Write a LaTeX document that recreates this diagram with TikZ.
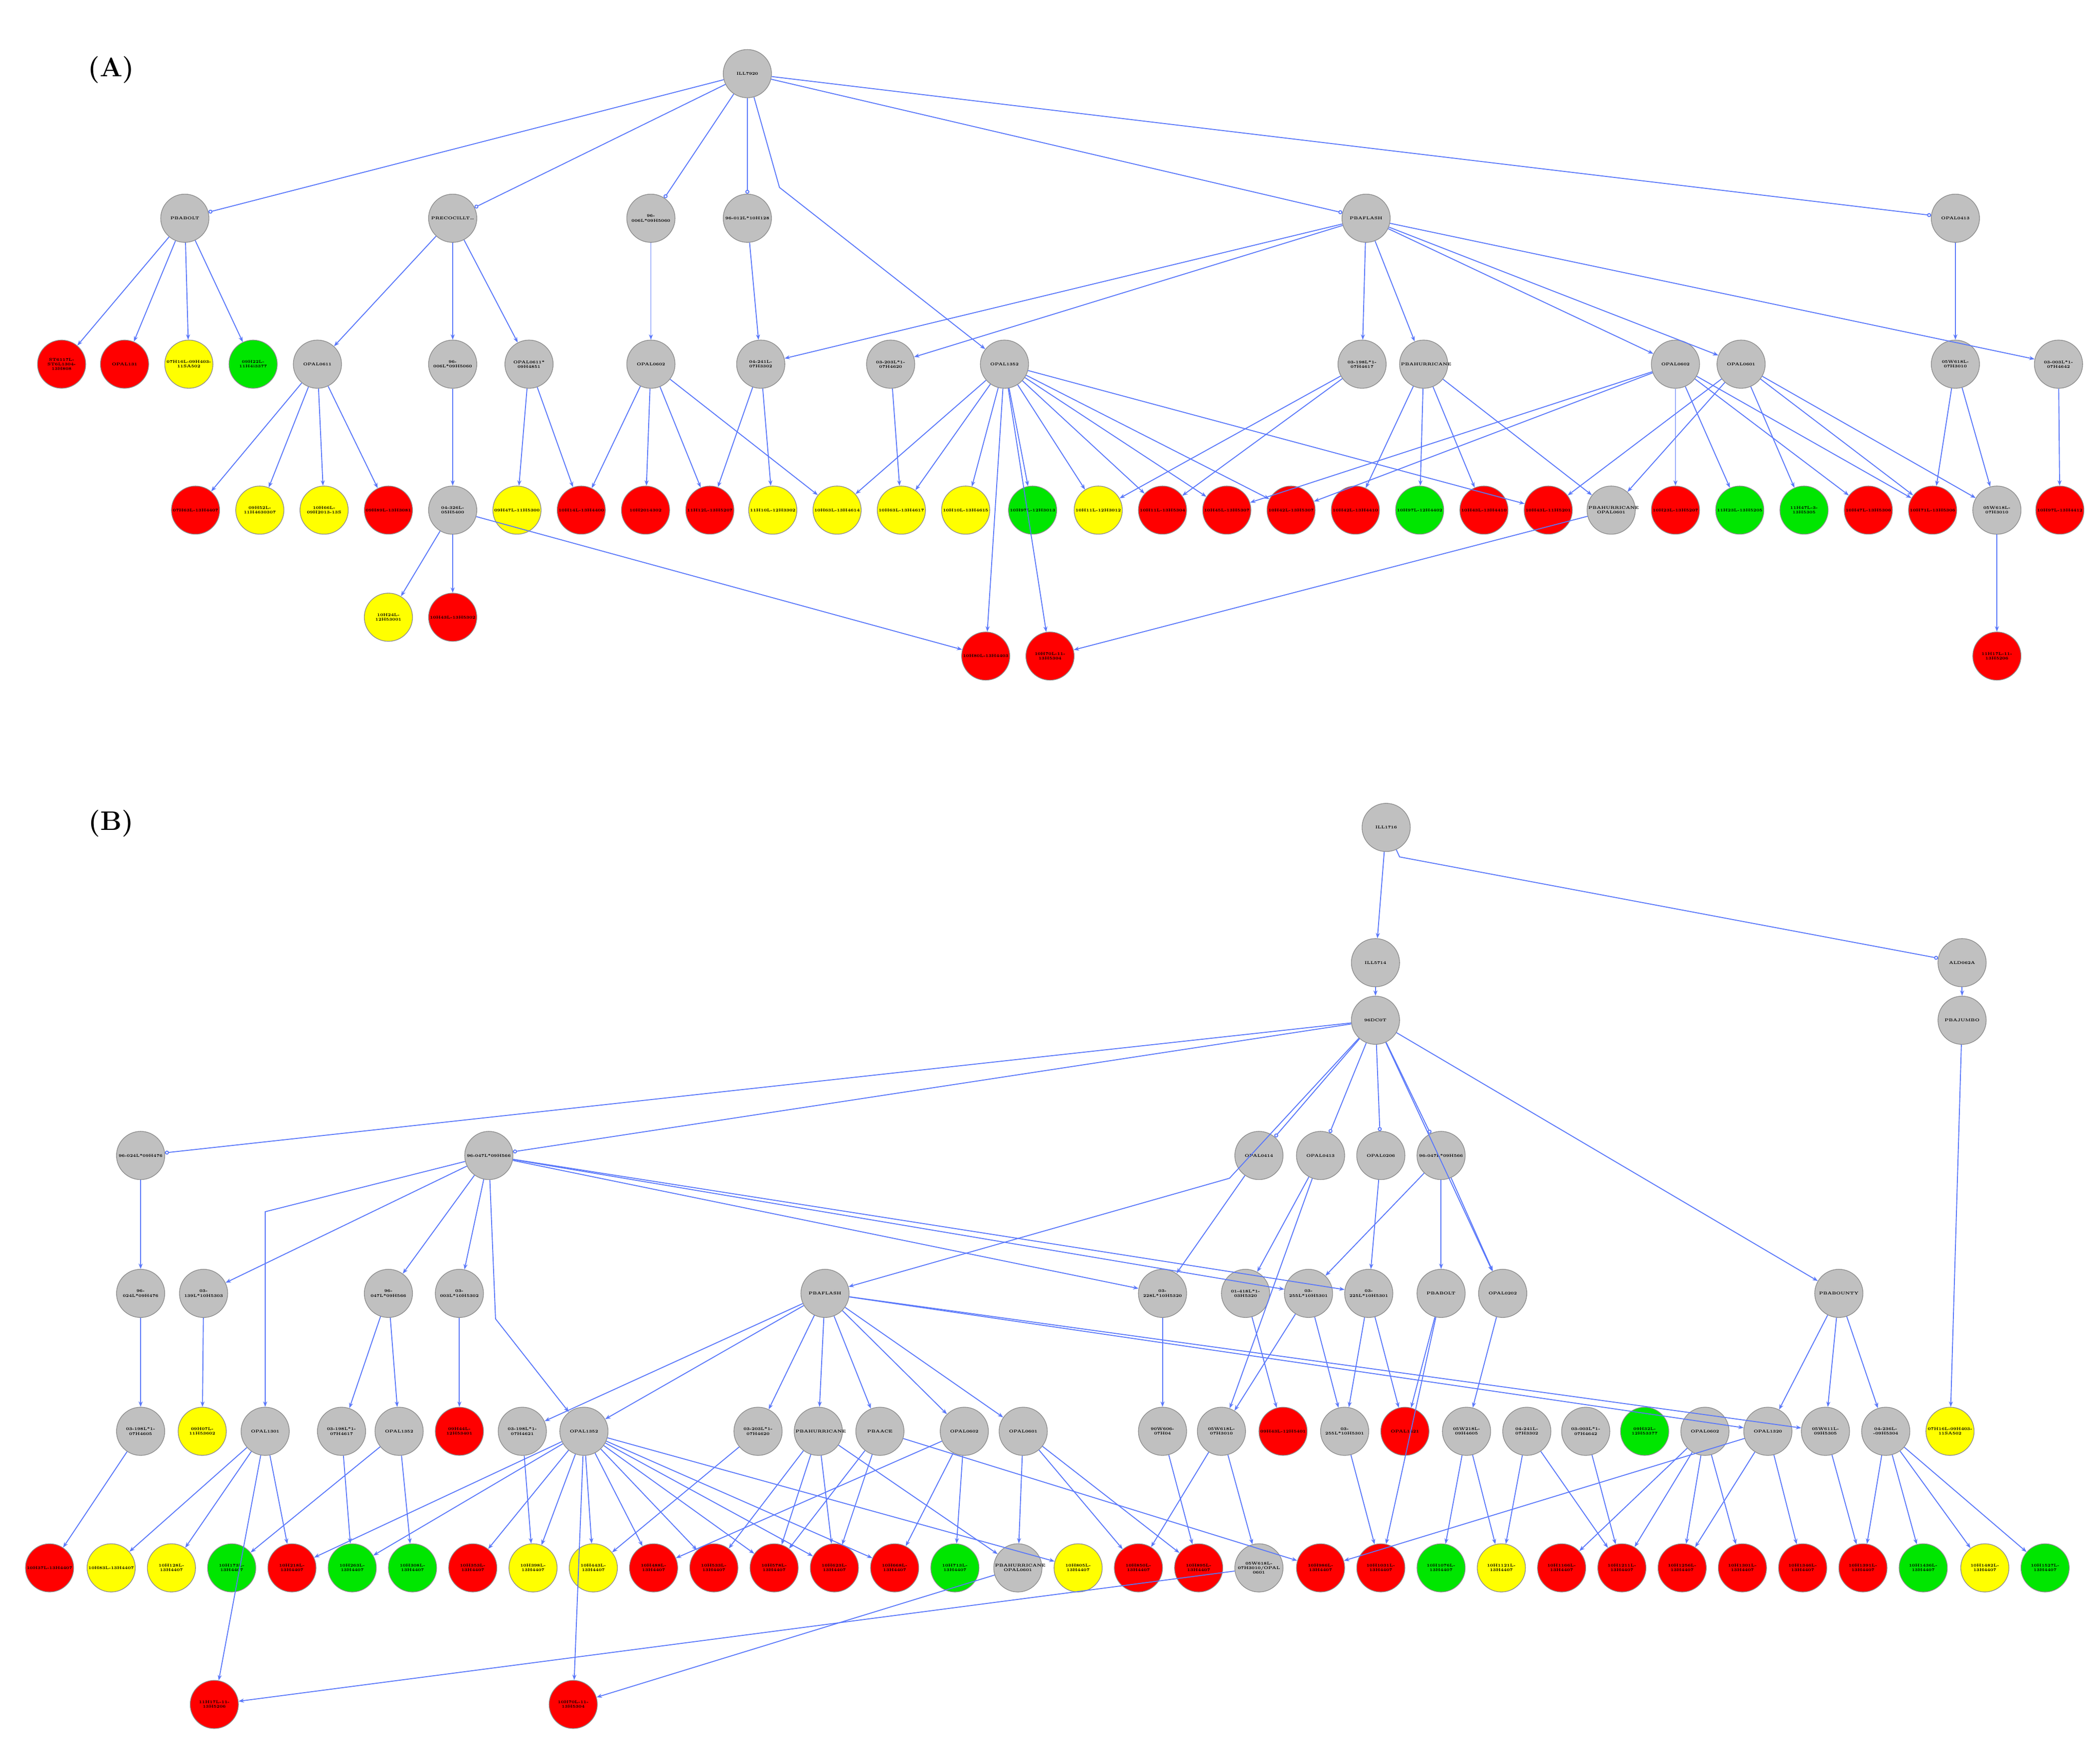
\documentclass[tikz,border=0pt]{standalone}
\usetikzlibrary{arrows.meta}
\definecolor{ln}{RGB}{90,120,250}
\definecolor{nodeg}{RGB}{192,192,192}
\definecolor{nodey}{RGB}{255,255,0}
\definecolor{nodegr}{RGB}{0,230,0}
\tikzset{
 nd/.style={circle,draw=black!45,line width=0.5pt,minimum size=36pt,inner sep=0pt,font=\fontsize{3}{3.4}\selectfont\bfseries,align=center,text width=34pt},
 cN/.style={nd,fill=nodeg},
 cR/.style={nd,fill=red},
 cY/.style={nd,fill=nodey},
 cG/.style={nd,fill=nodegr},
 e/.style={draw=ln,line width=0.7pt,-{Stealth[length=4pt,width=3pt]}},
 eo/.style={draw=ln,line width=0.7pt,-{Circle[open,length=3pt,width=3pt]}},
 lab/.style={font=\fontsize{20}{22}\selectfont\bfseries}
}
\begin{document}
\begin{tikzpicture}[x=1pt,y=-1pt]
\useasboundingbox (0,0) rectangle (1568,1306);
\node[lab] (LA) at (83,52) {(A)};
\node[lab] (LB) at (83,615) {(B)};
% ---------------- PART A
\node[cN] (A0) at (558,55) {ILL7920};
\foreach \x/\t in {138/PBABOLT,338/PRECOCILLT\ldots,486/96-006L*09H5060,558/96-012L*10H128,1020/PBAFLASH,1460/OPAL0413}
  \node[cN] (A1-\x) at (\x,163) {\t};
\foreach \x/\c/\t in {46/cR/ST6117L-ST6L1304-13H808,93/cR/OPAL131,141/cY/07H16L-09H403-11SA502,189/cG/09H22L-11H4i3377,
 237/cN/OPAL0611,338/cN/96-006L*09H5060,395/cN/OPAL0611*\\09H4851,486/cN/OPAL0602,568/cN/04-241L-\\07H3302,665/cN/03-203L*1-\\07H4620,750/cN/OPAL1352,
 1017/cN/03-198L*1-\\07H4617,1063/cN/PBAHURRICANE,1251/cN/OPAL0602,1300/cN/OPAL0601,1460/cN/05W618L-\\07H3010,1537/cN/03-003L*1-\\07H4642}
  \node[\c] (A2-\x) at (\x,272) {\t};
\foreach \x/\c/\t in {146/cR/07H63L-13H4407,194/cY/09H52L-11H4630307,242/cY/10H66L-09H2013-13S,290/cR/09H89L-13H3081,338/cN/04-326L-\\05H5400,
 386/cY/09H47L-11H5300,434/cR/10H14L-13H4400,482/cR/10H2014302,530/cR/11H12L-13H5207,577/cY/11H10L-12H3302,625/cY/10H63L-13H4614,673/cY/10H63L-13H4617,
 721/cY/10H10L-13H4615,771/cG/10H97L-12H3013,820/cY/10H11L-12H3012,868/cR/10H11L-13H5304,916/cR/10H45L-13H5307,964/cR/10H42L-13H5307,1012/cR/10H42L-13H4410,
 1060/cG/10H97L-12H4402,1108/cR/10H43L-13H4410,1156/cR/10H43L-11H5201,1203/cN/PBAHURRICANE\\OPAL0601,1251/cR/10H23L-13H5207,1299/cG/11H23L-13H5205,
 1347/cG/11H47L-3-13H5305,1395/cR/10H47L-13H5306,1443/cR/10H71L-13H5306,1491/cN/05W618L-\\07H3010/OPAL\\0601,1538/cR/10H97L-13H4412}
  \node[\c] (A3-\x) at (\x,381) {\t};
\node[cY] (A4-290) at (290,461) {10H24L-12H53001};
\node[cR] (A4-338) at (338,461) {10H43L-13H5302};
\node[cR] (A4-736) at (736,490) {10H80L-13H4403};
\node[cR] (A4-784) at (784,490) {10H70L-11-13H5304};
\node[cR] (A4-1491) at (1491,490) {11H17L-11-13H5206};
\coordinate (A0b) at (582,140);
\foreach \x in {138,338,486,558,1020,1460} \draw[eo] (A0) -- (A1-\x);
\draw[e] (A0) -- (A0b) -- (A2-750);
\foreach \a/\b in {138/46,138/93,138/141,138/189,338/237,338/338,338/395,486/486,558/568,
 1020/568,1020/665,1020/1017,1020/1063,1020/1251,1020/1300,1020/1537,1460/1460}
  \draw[e] (A1-\a) -- (A2-\b);
\foreach \a/\b in {237/146,237/194,237/242,237/290,338/338,395/386,395/434,486/434,486/482,486/530,486/625,
 568/530,568/577,665/673,750/625,750/673,750/721,750/771,750/820,750/868,750/916,750/964,750/1156,
 1017/820,1017/868,1063/1012,1063/1060,1063/1108,1063/1203,1251/916,1251/964,1251/1251,1251/1299,1251/1395,1251/1443,
 1300/1203,1300/1156,1300/1347,1300/1443,1300/1491,1460/1443,1460/1491,1537/1538}
  \draw[e] (A2-\a) -- (A3-\b);
\draw[e] (A3-338) -- (A4-290);
\draw[e] (A3-338) -- (A4-338);
\draw[e] (A3-338) -- (A4-736);
\draw[e] (A2-750) -- (A4-736);
\draw[e] (A2-750) -- (A4-784);
\draw[e] (A3-1203) -- (A4-784);
\draw[e] (A3-1491) -- (A4-1491);
% ---------------- PART B
\node[cN] (B0) at (1035,618) {ILL1716};
\node[cN] (B1a) at (1027,719) {ILL5714};
\node[cN] (B1b) at (1465,719) {ALD062A};
\node[cN] (B2a) at (1027,762) {96DC0T};
\node[cN] (B2b) at (1465,762) {PBAJUMBO};
\foreach \x/\t in {105/96-024L*09H476,365/96-047L*09H566,940/OPAL0414,986/OPAL0413,1031/OPAL0206,1076/96-047L*09H566}
  \node[cN] (B3-\x) at (\x,863) {\t};
\foreach \x/\t in {105/96-\\024L*09H476/OP\\AL0205,152/03-139L*10H5303,290/96-\\047L*09H566/OP\\AL0204,343/03-003L*10H5302,616/PBAFLASH,
 868/03-228L*10H5320,930/01-418L*1-\\03H5320,977/03-255L*10H5301,1022/03-225L*10H5301,1076/PBABOLT,1122/OPAL0202,1373/PBABOUNTY}
  \node[cN] (B4-\x) at (\x,966) {\t};
\foreach \x/\c/\t in {105/cN/03-198L*1-\\07H4605,151/cY/09H07L-11H53602,198/cN/OPAL1301,255/cN/03-198L*1-\\07H4617,298/cN/OPAL1352,343/cR/09H44L-12H53401,
 390/cN/03-198L*1-\\07H4621,436/cN/OPAL1352,566/cN/03-203L*1-\\07H4620,611/cN/PBAHURRICANE,657/cN/PBAACE,720/cN/OPAL0602,764/cN/OPAL0601,
 868/cN/90W606-\\07H04/3321,912/cN/05W618L-\\07H3010,958/cR/09H43L-12H5401,1004/cN/03-\\255L*10H5301/03-\\225L*10H5301,1049/cR/OPAL1421,
 1095/cN/05W218L-\\09H4605,1140/cN/04-241L-\\07H3302,1184/cN/03-003L*1-\\07H4642,1228/cG/09H32L-12H53377,1273/cN/OPAL0602,1320/cN/OPAL1320,
 1363/cN/05W611L-\\09H5305,1408/cN/04-236L-\\-09H5304/4266,1456/cY/07H16L-09H403-11SA502}
  \node[\c] (B5-\x) at (\x,1069) {\t};
\foreach \x/\c in {37/cR,83/cY,128/cY,173/cG,218/cR,263/cG,308/cG,353/cR,398/cY,443/cY,488/cR,533/cR,578/cR,623/cR,668/cR,713/cG,760/cN,805/cY,
 850/cR,895/cR,940/cN,986/cR,1031/cR,1076/cG,1121/cY,1166/cR,1211/cR,1256/cR,1301/cR,1346/cR,1391/cR,1436/cG,1482/cY,1527/cG}
  \node[\c] (B6-\x) at (\x,1171) {\ifnum\x=760 PBAHURRICANE\\OPAL0601\else\ifnum\x=940 05W618L-\\07H3010/OPAL\\0601\else 10H\x L-13H4407\fi\fi};
\node[cR] (B7-160) at (160,1273) {11H17L-11-13H5206};
\node[cR] (B7-428) at (428,1273) {10H70L-11-13H5304};
\coordinate (Bb1) at (1045,640);
\coordinate (Bb2) at (918,880);
\coordinate (Bb3) at (198,905);
\coordinate (Bb4) at (370,985);
\draw[e] (B0) -- (B1a);
\draw[eo] (B0) -- (Bb1) -- (B1b);
\draw[e] (B1b) -- (B2b);
\draw[e] (B1a) -- (B2a);
\foreach \x in {105,365,940,986,1031,1076} \draw[eo] (B2a) -- (B3-\x);
\draw[e] (B2a) -- (Bb2) -- (B4-616);
\draw[e] (B2a) -- (B4-1122);
\draw[e] (B2a) -- (B4-1373);
\foreach \a/\b in {105/105,365/152,365/290,365/343,365/868,365/977,365/1022,940/868,986/930,1031/1022,1076/977,1076/1076,1076/1122}
  \draw[e] (B3-\a) -- (B4-\b);
\draw[e] (B3-365) -- (Bb3) -- (B5-198);
\draw[e] (B3-365) -- (Bb4) -- (B5-436);
\draw[e] (B3-986) -- (B5-912);
\foreach \a/\b in {105/105,152/151,290/255,290/298,343/343,616/390,616/436,616/566,616/611,616/657,616/720,616/764,616/1320,616/1363,
 868/868,930/958,977/912,977/1004,1022/1004,1022/1049,1076/1049,1122/1095,1373/1320,1373/1363,1373/1408}
  \draw[e] (B4-\a) -- (B5-\b);
\draw[e] (B2b) -- (B5-1456);
\foreach \a/\b in {105/37,198/83,198/128,198/218,255/263,298/173,298/308,390/398,436/218,436/263,436/353,436/398,436/443,436/488,436/533,436/578,
 436/623,436/668,436/805,566/443,611/533,611/578,611/623,611/760,657/578,657/623,657/986,720/488,720/668,720/713,764/760,764/850,764/895,
 868/895,912/850,912/940,1004/1031,1095/1076,1095/1121,1140/1121,1140/1211,1184/1211,1273/1166,1273/1211,1273/1256,1273/1301,
 1320/986,1320/1256,1320/1346,1363/1391,1408/1391,1408/1436,1408/1482,1408/1527}
  \draw[e] (B5-\a) -- (B6-\b);
\draw[e] (B4-1076) -- (B6-1031);
\draw[e] (B5-198) -- (B7-160);
\draw[e] (B6-940) -- (B7-160);
\draw[e] (B5-436) -- (B7-428);
\draw[e] (B6-760) -- (B7-428);
\end{tikzpicture}
\end{document}
